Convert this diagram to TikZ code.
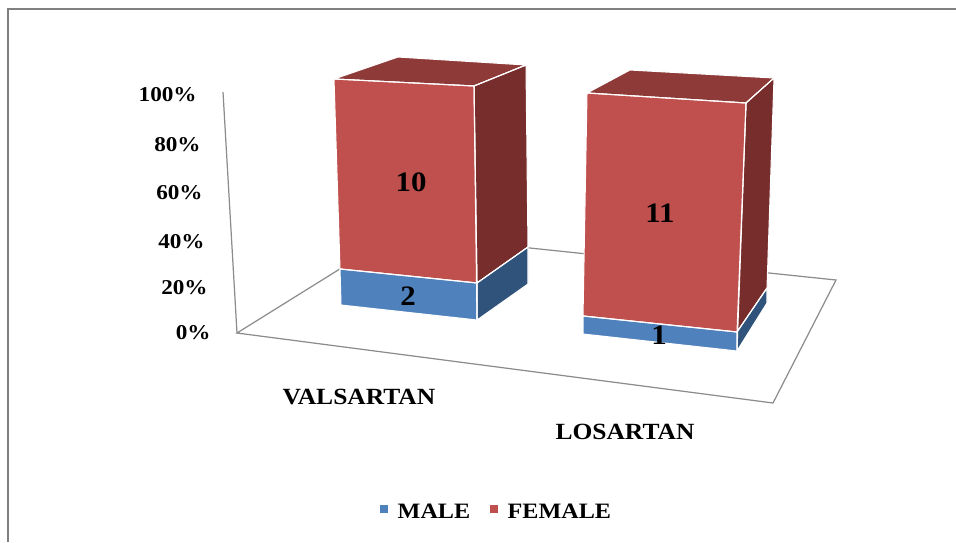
\documentclass[tikz,border=0pt]{standalone}
\usepackage{fontspec}
\setmainfont{Liberation Serif}[FakeStretch=1.1]
\usetikzlibrary{positioning}
\definecolor{femred}{HTML}{C0504D}
\definecolor{femside}{HTML}{772D2B}
\definecolor{femtop}{HTML}{8E3A38}
\definecolor{malblue}{HTML}{4F81BD}
\definecolor{malside}{HTML}{30537B}
\definecolor{axisgray}{HTML}{8C8C8C}

\begin{document}
\begin{tikzpicture}[x=0.02cm, y=-0.02cm,
        face/.style={draw=white, line width=0.6pt, line join=round},
        tick/.style={font=\bfseries\fontsize{12}{14}\selectfont, anchor=east, inner sep=0pt},
        cat/.style={font=\bfseries\fontsize{12.5}{15}\selectfont, inner sep=0pt},
        val/.style={font=\bfseries\fontsize{16}{18}\selectfont},
        key/.style={minimum size=0.16cm, inner sep=0pt}]
                \useasboundingbox (0,0) rectangle (956,542);
                \draw[gray, line width=1.4pt] (8,542) -- (8,9) -- (956,9);

                % floor and value axis
                \draw[axisgray, line width=0.7pt] (237,333) -- (773,403) -- (836,280) -- (396,234) -- cycle;
                \draw[axisgray, line width=0.7pt] (237,333) -- (223,92);
                \foreach \p/\x/\y in {0/211/333, 20/208/288, 40/205/242, 60/203/193, 80/201/145, 100/197/95}
                    \node[tick] (t\p) at (\x,\y) {\p\%};

                % VALSARTAN bar
                \fill[face, fill=femtop] (334,79) -- (398,57) -- (526,65) -- (474,86) -- cycle;
                \fill[face, fill=femside] (474,86) -- (526,65) -- (528,247) -- (477,283) -- cycle;
                \fill[face, fill=malside] (477,283) -- (528,247) -- (528,284) -- (477,320) -- cycle;
                \fill[face, fill=femred] (334,79) -- (474,86) -- (477,283) -- (340,269) -- cycle;
                \fill[face, fill=malblue] (340,269) -- (477,283) -- (477,320) -- (341,305) -- cycle;
                \draw[face] (334,79) -- (474,86) -- (477,320) (474,86) -- (526,65) (340,269) -- (477,283) -- (528,247);

                % LOSARTAN bar
                \fill[face, fill=femtop] (587,93) -- (630,70) -- (774,78) -- (746,103) -- cycle;
                \fill[face, fill=femside] (746,103) -- (774,78) -- (767,288) -- (737,332) -- cycle;
                \fill[face, fill=malside] (737,332) -- (767,288) -- (767,303) -- (737,351) -- cycle;
                \fill[face, fill=femred] (587,93) -- (746,103) -- (737,332) -- (583,316) -- cycle;
                \fill[face, fill=malblue] (583,316) -- (737,332) -- (737,351) -- (583,334) -- cycle;
                \draw[face] (587,93) -- (746,103) -- (737,351) (746,103) -- (774,78) (583,316) -- (737,332) -- (767,288);

                \node[val] (v10) at (411,182) {10};
                \node[val] (v2) at (408,296) {2};
                \node[val] (v11) at (660,213) {11};
                \node[val] (v1) at (659,335) {1};

                \node[cat, font=\bfseries\fontsize{13.2}{15}\selectfont] (valsartan) at (359,397) {VALSARTAN};
                \node[cat, font=\bfseries\fontsize{13.2}{15}\selectfont] (losartan) at (625,432) {LOSARTAN};

                % legend
                \node[key, fill=malblue] (kmale) at (384,509) {};
                \node[cat, right=0.18cm of kmale, yshift=-0.05cm] (lmale) {MALE};
                \node[key, fill=femred] (kfemale) at (494,509) {};
                \node[cat, right=0.18cm of kfemale, yshift=-0.05cm] (lfemale) {FEMALE};
            \end{tikzpicture}
\end{document}
